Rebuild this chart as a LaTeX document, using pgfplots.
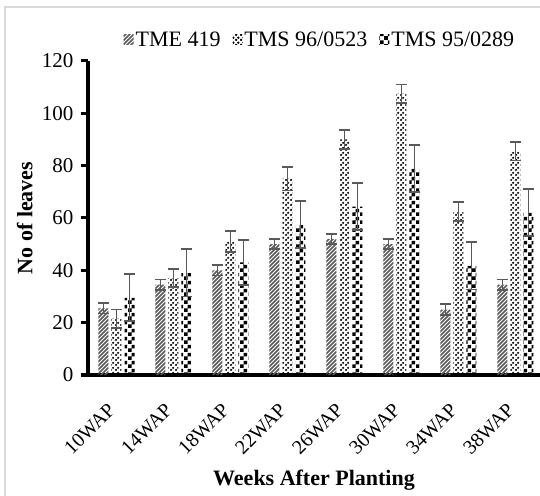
\documentclass[border=0pt]{standalone}
\usepackage{pgfplots}
\pgfplotsset{compat=1.18}
\usepackage{fontspec}
\setmainfont{Liberation Serif}
\usetikzlibrary{patterns}

% fill patterns close to the Excel ones
\pgfdeclarepatternformonly{wstripes}{\pgfqpoint{-1bp}{-1bp}}{\pgfqpoint{5bp}{5bp}}{\pgfqpoint{4bp}{4bp}}{%
  \pgfsetlinewidth{1.6bp}
  \pgfpathmoveto{\pgfqpoint{-0.1bp}{-0.1bp}}\pgfpathlineto{\pgfqpoint{4.1bp}{4.1bp}}
  \pgfusepath{stroke}}
\pgfdeclarepatternformonly{wdots}{\pgfqpoint{0bp}{0bp}}{\pgfqpoint{5bp}{5bp}}{\pgfqpoint{5bp}{5bp}}{%
  \pgfpathcircle{\pgfqpoint{1.25bp}{1.25bp}}{1.45bp}
  \pgfpathcircle{\pgfqpoint{3.75bp}{3.75bp}}{1.45bp}
  \pgfusepath{fill}}
\pgfdeclarepatternformonly{wchecker}{\pgfqpoint{0bp}{0bp}}{\pgfqpoint{8bp}{8bp}}{\pgfqpoint{8bp}{8bp}}{%
  \pgfpathrectangle{\pgfqpoint{0bp}{0bp}}{\pgfqpoint{4bp}{4bp}}
  \pgfpathrectangle{\pgfqpoint{4bp}{4bp}}{\pgfqpoint{4bp}{4bp}}
  \pgfusepath{fill}}

\definecolor{errgray}{HTML}{595959}
\definecolor{framegray}{HTML}{D9D9D9}

% x: 0 = 10WAP ... 7 = 38WAP ; mean, error
\pgfplotstableread{
x  y     e
0  25.5  2
1  34.5  2
2  40    2
3  50    2
4  52    2
5  50    2
6  25    2
7  34.5  2
}\tmeA
\pgfplotstableread{
x  y     e
0  21.5  3.5
1  37    3.5
2  51    4
3  75    4.5
4  90    3.5
5  107.5 3.5
6  62.5  3.5
7  85.5  3.5
}\tmsB
\pgfplotstableread{
x  y     e
0  29.5  9
1  39    9
2  43    8.6
3  57.5  9
4  64.3  9
5  79    9
6  41.7  9
7  62    9
}\tmsC

\begin{document}
\begin{tikzpicture}
\useasboundingbox (0,0) rectangle (540bp,496bp);
\draw[line width=1.3bp, framegray] (5bp,0bp) -- (5bp,489bp) -- (540bp,489bp);
\begin{axis}[
    at={(88bp,121bp)}, anchor=south west,
    scale only axis,
    width=452bp, height=314bp,
    ybar=3bp, bar width=10bp,
    xmin=-0.5, xmax=7.43,
    ymin=0, ymax=120,
    ytick={0,20,...,120},
    xtick={0,...,7},
    xticklabels={10WAP,14WAP,18WAP,22WAP,26WAP,30WAP,34WAP,38WAP},
    extra x ticks={-0.5,0.5,...,6.5},
    extra x tick labels={},
    extra x tick style={major tick length=6bp},
    major x tick style={draw=none},
    axis x line*=bottom, axis y line*=left,
    axis line style={black, -},
    every outer x axis line/.append style={line width=3.2bp},
    every outer y axis line/.append style={line width=3.2bp},
    tick style={line width=3bp, black},
    major tick style={line width=3bp, black},
    major tick length=7bp,
    tick align=outside,
    /pgf/number format/assume math mode=true,
    tick label style={font=\fontsize{21bp}{25bp}\selectfont},
    y tick label style={xshift=-4bp},
    x tick label style={font=\fontsize{20bp}{24bp}\selectfont,
        xshift=-4bp, yshift=-24bp, rotate=45, anchor=east, inner sep=1bp},
    label style={font=\fontsize{22bp}{26bp}\selectfont\bfseries},
    xlabel={Weeks After Planting},
    ylabel={No of leaves},
    xlabel style={at={(axis description cs:0.5,-0.334)}, anchor=center},
    ylabel style={at={(axis description cs:-0.140,0.5)}, anchor=center},
    legend style={draw=none, fill=none, legend columns=3,
        at={(0.513,1.067)}, anchor=center,
        font=\fontsize{22bp}{26bp}\selectfont,
        /tikz/every even column/.append style={column sep=10bp},
        nodes={inner sep=2bp}},
    legend image code/.code={\fill[#1] (0bp,-5bp) rectangle (10bp,5bp);},
    error bars/error bar style={errgray, line width=1.8bp},
    error bars/error mark options={rotate=90, errgray, mark size=5.5bp, line width=1.8bp},
    clip=false,
]
\addplot[draw=none, pattern=wstripes, pattern color=black!65,
    error bars/.cd, y dir=both, y explicit]
    table[x=x, y=y, y error=e] {\tmeA};
\addplot[draw=none, pattern=wdots, pattern color=black,
    error bars/.cd, y dir=both, y explicit]
    table[x=x, y=y, y error=e] {\tmsB};
\addplot[draw=none, pattern=wchecker, pattern color=black,
    error bars/.cd, y dir=both, y explicit]
    table[x=x, y=y, y error=e] {\tmsC};
\legend{TME 419, TMS 96/0523, TMS 95/0289}
\end{axis}
\end{tikzpicture}
\end{document}
